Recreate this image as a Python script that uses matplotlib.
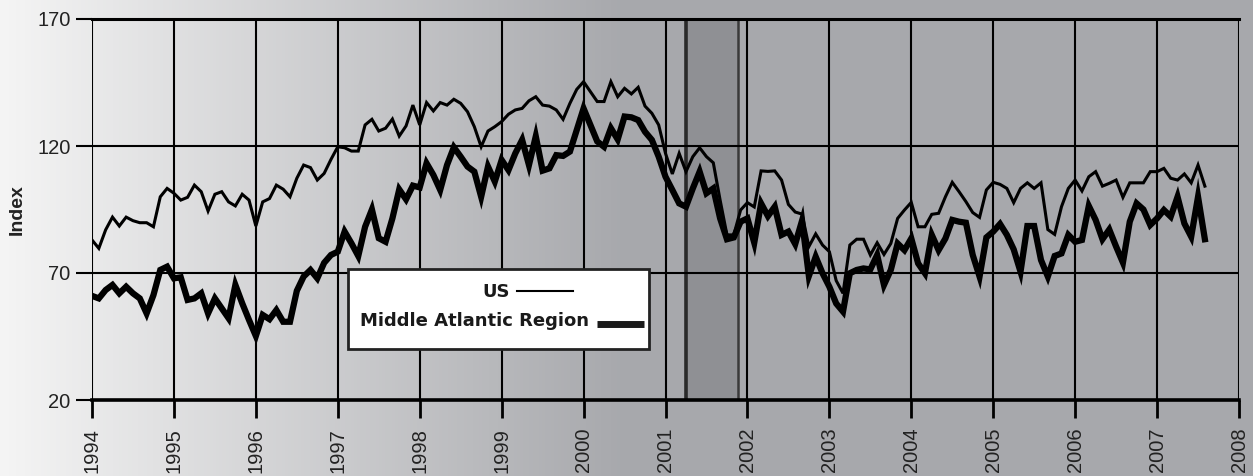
import numpy as np
import pandas as pd
import matplotlib
matplotlib.use("Agg")
import matplotlib.pyplot as plt
from matplotlib.patches import Rectangle
from matplotlib.lines import Line2D

# monthly index values, Jan 1994 - Aug 2007
us = [83, 79.7, 87, 92, 88.5, 92, 90.6, 89.8, 89.8, 88.2, 100, 103.3,
      101.4, 98.7, 99.8, 104.6, 102, 94.4, 101, 102, 98, 96.4, 101, 98.7,
      88.5, 98, 99.3, 104.6, 103, 100, 107.3, 112.5, 111.5, 106.6, 109.2, 114.7,
      119.7, 119.3, 118, 118, 128.3, 130.5, 125.9, 127, 130.6, 123.9, 127.9, 136.1,
      128.3, 137.1, 133.8, 137.1, 136.1, 138.4, 136.8, 133.5, 127.6, 119.7, 125.9, 127.6,
      129.6, 132.5, 134.2, 134.8, 137.8, 139.4, 136.1, 135.7, 134.2, 130.5, 136.8, 142.3,
      145.3, 141.4, 137.5, 137.5, 145.3, 139.4, 142.7, 140.5, 143.1, 135.7, 132.9, 128.3,
      117.1, 109, 117.1, 109.9, 115.8, 119.3, 115.8, 113.4, 98.7, 85, 85, 94.8,
      97.7, 96, 110.2, 110, 110.2, 106.6, 97, 94, 93.2, 80.4, 85.4, 81,
      78.4, 67, 62, 81, 83.3, 83.3, 77.1, 81.9, 77.3, 81.6, 91.5, 94.8,
      97.8, 88.2, 88.2, 93.1, 93.5, 100, 105.7, 102, 98.1, 93.8, 91.9, 102.7,
      105.7, 104.9, 103.3, 97.7, 103.3, 105.5, 103.3, 105.5, 87.1, 85.2, 96.1, 103.3,
      106.6, 102.3, 107.9, 109.9, 104.2, 105.3, 106.6, 99.8, 105.5, 105.5, 105.5, 109.9,
      109.9, 111.2, 107.3, 106.6, 109, 105.5, 112.5, 104.2]

mid_atlantic = [61, 60, 63.3, 65.3, 62, 64.6, 62, 60, 54.1, 61.3, 71.2, 72.5,
                67.9, 68.3, 59.4, 60, 62, 54.1, 60, 56.1, 52.2, 65.3, 58.1, 51.5,
                45.2, 53.5, 51.8, 55.4, 50.8, 50.8, 63, 68.6, 71.2, 67.9, 74, 77.1,
                78.4, 86.3, 81.7, 76.7, 88.2, 95, 83.7, 82.3, 91.5, 102.9, 99, 104.4,
                103.7, 113.2, 108.6, 102.7, 112.5, 119.5, 115.8, 111.9, 109.9, 100, 111.9, 106,
                114.5, 110.5, 117.1, 122.4, 112.5, 123.8, 110.3, 111.2, 116.4, 116.1, 117.8, 126.3,
                134.8, 128.3, 121.8, 119.7, 127, 122.6, 131.6, 131.3, 130.2, 125.6, 122.4, 115.8,
                107.9, 102.7, 97.4, 96.1, 103.3, 109.9, 101.4, 103.3, 91.5, 83.3, 84, 90.2,
                91.5, 81.9, 97.4, 92.4, 96.1, 85, 86.3, 81.4, 90.6, 68.8, 76.4, 69.9,
                64.6, 58, 54.8, 69.9, 71.2, 71.8, 71.4, 77.1, 65.3, 71.2, 81.6, 79,
                83.6, 73.8, 69.9, 85, 79, 83.6, 90.9, 90.2, 89.8, 77.1, 68.6, 84,
                86.3, 89.3, 85, 79.3, 70.5, 88.5, 88.5, 75.1, 68.6, 76.7, 77.7, 85,
                82.3, 83, 96.4, 90.9, 83.3, 87.1, 80.4, 74.1, 90.2, 97.4, 95, 88.9,
                91.5, 94.8, 92.2, 100, 89.5, 84.3, 100, 83.3]

years = list(range(1994, 2009))
y_ticks = [20, 70, 120, 170]
recession = (2001.25, 2001.88)

dates = 1994 + np.arange(len(us)) / 12.0
df = pd.DataFrame({'date': dates, 'US': us, 'Middle Atlantic Region': mid_atlantic})

fig = plt.figure(figsize=(12.53, 4.76), dpi=100)

# gradient background over the whole figure
bg = fig.add_axes([0, 0, 1, 1], zorder=-10)
xs = np.linspace(0, 1, 400)
left_c = np.array([0.96, 0.96, 0.96])
right_c = np.array([0.655, 0.659, 0.675])
t = np.clip(xs / 0.5, 0, 1)
grad = left_c[None, :] * (1 - t[:, None]) + right_c[None, :] * t[:, None]
bg.imshow(grad[None, :, :], aspect='auto', extent=[0, 1, 0, 1])
bg.set_axis_off()

ax = fig.add_axes([92 / 1253, 1 - 400 / 476, (1239 - 92) / 1253, (400 - 19) / 476])
ax.patch.set_alpha(0)

ax.axvspan(recession[0], recession[1], facecolor='#8f9094', edgecolor='none', zorder=1)
ax.axvline(recession[0], color='#2a2a2a', lw=2.6, zorder=1.5)
ax.axvline(recession[1], color='#3a3a3a', lw=1.8, zorder=1.5)

for yr in years:
    ax.axvline(yr, color='black', lw=1.5, zorder=2)
for v in y_ticks[1:-1]:
    ax.axhline(v, color='black', lw=1.5, zorder=2)

ax.plot(df['date'], df['US'], color='black', lw=2.2, zorder=4, solid_joinstyle='miter')
ax.plot(df['date'], df['Middle Atlantic Region'], color='black', lw=4.5, zorder=3,
        solid_joinstyle='miter')

ax.set_xlim(1994, 2008)
ax.set_ylim(20, 170)
ax.set_xticks(years)
ax.set_xticklabels([str(y) for y in years], rotation=90, fontsize=14.5,
                   family='Liberation Sans', color='#222222')
ax.set_yticks(y_ticks)
ax.set_yticklabels([str(v) for v in y_ticks], fontsize=14.5, family='Liberation Sans',
                   color='#222222')
ax.tick_params(axis='y', length=11.5, width=1.5, pad=4)
ax.tick_params(axis='x', length=13, width=2, pad=7)
for s in ['left', 'right']:
    ax.spines[s].set_visible(False)
ax.spines['top'].set_linewidth(2.2)
ax.spines['bottom'].set_linewidth(2.6)
ax.set_ylabel('Index', fontsize=14, fontweight='bold', family='Liberation Sans',
              color='#222222')
ax.yaxis.set_label_coords((26 - 92) / 1147, 0.5)

# legend box
fig.patches.append(Rectangle((348 / 1253, 1 - 349 / 476), (649 - 348) / 1253, (349 - 269) / 476,
                             transform=fig.transFigure, facecolor='white', edgecolor='#222222',
                             lw=2, zorder=10))
fig.text(510 / 1253, 1 - 292 / 476, 'US', ha='right', va='center', fontsize=13,
         fontweight='bold', color='#1a1a1a', zorder=11)
fig.lines.append(Line2D([517 / 1253, 573 / 1253], [1 - 291 / 476] * 2, transform=fig.transFigure,
                        color='black', lw=1.5, zorder=11))
fig.text(589 / 1253, 1 - 321 / 476, 'Middle Atlantic Region', ha='right', va='center',
         fontsize=13, fontweight='bold', color='#1a1a1a', zorder=11)
fig.lines.append(Line2D([597 / 1253, 644 / 1253], [1 - 324 / 476] * 2, transform=fig.transFigure,
                        color='#1a1a1a', lw=5, solid_capstyle='butt', zorder=11))

fig.savefig('out.png', dpi=100)
